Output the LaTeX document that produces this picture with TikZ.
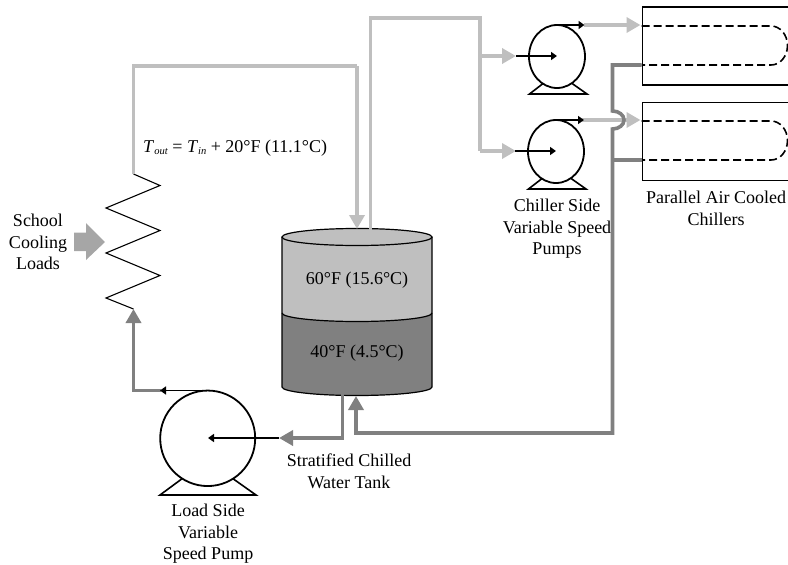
\documentclass[tikz,border=0pt]{standalone}
\usepackage{fontspec}
\setmainfont{Liberation Serif}
\usetikzlibrary{arrows.meta,shapes.geometric}
\definecolor{lightpipe}{HTML}{BFBFBF}
\definecolor{darkpipe}{HTML}{808080}
\definecolor{loadarrow}{HTML}{A6A6A6}
\newcommand{\subtxt}[1]{\raisebox{-2.6pt}{\fontsize{10.5}{12}\selectfont\textit{#1}}}
\tikzset{
  x=1pt,y=-1pt,
  lbl/.style={font=\fontsize{18}{21.6}\selectfont,align=center,inner sep=0pt,text=black},
  lightflow/.style={draw=lightpipe,line width=3.6pt},
  darkflow/.style={draw=darkpipe,line width=3.6pt},
  lighthead/.style={lightflow,-{Triangle[length=14pt,width=15pt,fill=lightpipe]}},
  darkhead/.style={darkflow,-{Triangle[length=14pt,width=15pt,fill=darkpipe]}},
  blackflow/.style={draw=black,line width=1.8pt,-{Triangle[length=6pt,width=8pt]}},
  pumpbody/.style={ellipse,draw=black,line width=1.8pt,fill=white,inner sep=0pt,outer sep=0pt},
  pumpbase/.style={draw=black,line width=1.6pt},
  chiller/.style={draw=black,line width=1.7pt},
  coil/.style={draw=black,line width=1.6pt,dash pattern=on 8pt off 4pt},
  tankline/.style={draw=black,line width=1.2pt},
}
\begin{document}
\begin{tikzpicture}
\useasboundingbox (0,0) rectangle (788,565);
\clip (0,0) rectangle (788,565);

% named points
\coordinate (tankTopOut) at (370.5,232);
\coordinate (tankTopIn) at (357,229);
\coordinate (tankBotOut) at (342.5,394);
\coordinate (tankBotIn) at (356,396);
\coordinate (coilTop) at (133.5,174);
\coordinate (coilBot) at (133.5,309);
\coordinate (splitTop) at (480,56);
\coordinate (splitBot) at (480,151);
\coordinate (rise) at (612.5,433);

% chillers
\node[chiller,draw,rectangle,minimum width=160pt,minimum height=78pt,anchor=north west,inner sep=0pt] (chillerA) at (641.5,6) {};
\node[chiller,draw,rectangle,minimum width=160pt,minimum height=78pt,anchor=north west,inner sep=0pt] (chillerB) at (641.5,101.5) {};
\coordinate (inA) at (641.5,26);
\coordinate (outA) at (641.5,65);
\coordinate (inB) at (641.5,121);
\coordinate (outB) at (641.5,160);
\draw[coil] (inA) -- (771,26) arc[start angle=90,end angle=-90,x radius=16.5pt,y radius=19.5pt] -- (outA);
\draw[coil] (inB) -- (771,121) arc[start angle=90,end angle=-90,x radius=16.5pt,y radius=19.5pt] -- (outB);

% tank
\fill[fill=lightpipe] (282,237) -- (282,313) arc[start angle=180,end angle=360,x radius=75pt,y radius=8.5pt] -- (432,237) arc[start angle=0,end angle=180,x radius=75pt,y radius=8.5pt] -- cycle;
\fill[fill=darkpipe] (282,313) arc[start angle=180,end angle=360,x radius=75pt,y radius=8.5pt] -- (432,387) arc[start angle=360,end angle=180,x radius=75pt,y radius=8.5pt] -- cycle;
\draw[tankline] (282,237) -- (282,387) arc[start angle=180,end angle=360,x radius=75pt,y radius=8.5pt] -- (432,237);
\draw[tankline] (357,237) ellipse[x radius=75pt,y radius=8.5pt];
\draw[tankline] (282,313) arc[start angle=180,end angle=360,x radius=75pt,y radius=8.5pt];
\node[lbl] (hot) at (357,280) {60°F (15.6°C)};
\node[lbl] (cold) at (357,353) {40°F (4.5°C)};

% pump bases
\draw[pumpbase] (545,82) -- (529.5,94) -- (587,94) -- (570,82);
\draw[pumpbase] (544,177) -- (528.5,189) -- (586,189) -- (569,177);
\draw[pumpbase] (183,478) -- (160,495) -- (256,495) -- (232,478);

% pumps
\node[pumpbody,minimum width=56pt,minimum height=63pt] (pumpA) at (557,56.5) {};
\node[pumpbody,minimum width=56pt,minimum height=63pt] (pumpB) at (556,151.5) {};
\node[pumpbody,minimum width=95pt,minimum height=95.5pt] (pumpL) at (207.7,438.3) {};

% coil
\draw[black,line width=1.1pt] (coilTop) -- (160,185.5) -- (106,208) -- (160,230.5) -- (106,253) -- (160,275.5) -- (106,298) -- (coilBot);

% light pipes
\draw[lightflow] (coilTop) -- (133.5,66) -- (357,66);
\draw[lighthead] (357,66) -- (tankTopIn);
\draw[lightflow] (tankTopOut) -- (370.5,18) -- (480,18) -- (splitBot);
\draw[lighthead] (splitTop) -- (516,56);
\draw[lighthead] (splitBot) -- (516,151);
\draw[lighthead] (584,25) -- (640.5,25);
\draw[lighthead] (582,120) -- (640.5,120);

% dark pipes
\draw[darkhead] (tankBotOut) -- (342.5,438) -- (279,438);
\draw[darkhead] (161,390.5) -- (133.5,390.5) -- (coilBot);
\draw[darkhead] (outA) -- (612.5,65) -- (612.5,111) arc[start angle=90,end angle=-90,x radius=11.5pt,y radius=9pt] -- (rise) -- (356,433) -- (tankBotIn);
\draw[darkflow] (outB) -- (612.5,160);

% school load arrow
\fill[loadarrow] (74,232.5) -- (86,232.5) -- (86,223) -- (105,242) -- (86,260) -- (86,251) -- (74,251) -- cycle;

% black arrows
\draw[blackflow] (557,25) -- (584.5,25);
\draw[blackflow] (516,56) -- (557,56);
\draw[blackflow] (556,120) -- (584,120);
\draw[blackflow] (515,151) -- (556,151);
\draw[blackflow] (279,438) -- (208,438);
\draw[blackflow] (208,390.5) -- (160,390.5);

% labels
\node[lbl] (school) at (38,242) {School\\Cooling\\Loads};
\node[lbl,anchor=west] (formula) at (143,148) {\textit{T}\subtxt{out} = \textit{T}\subtxt{in} + 20°F (11.1°C)};
\node[lbl] (tanklabel) at (349,471.5) {Stratified Chilled\\Water Tank};
\node[lbl] (loadlabel) at (208,534) {Load Side\\Variable\\Speed Pump};
\node[lbl] (pumpslabel) at (557,229) {Chiller Side\\Variable Speed\\Pumps};
\node[lbl] (chillerlabel) at (716,208.5) {Parallel Air Cooled\\Chillers};
\end{tikzpicture}
\end{document}
